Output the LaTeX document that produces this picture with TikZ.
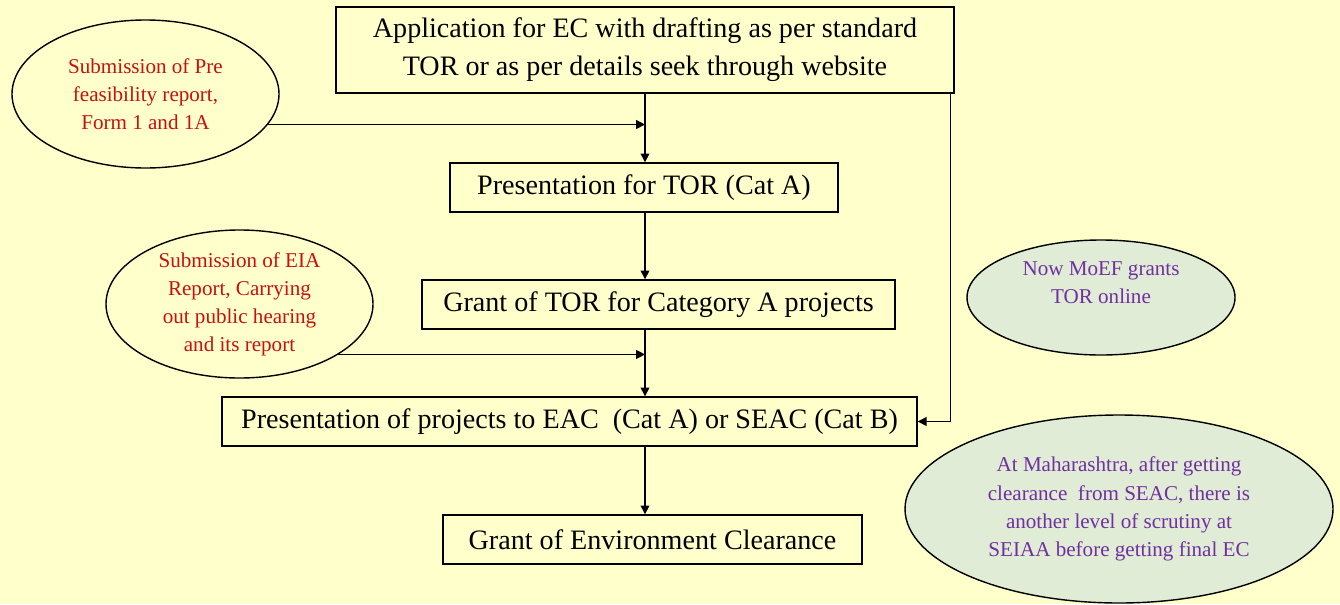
\documentclass[tikz,border=0pt]{standalone}
\usepackage{fontspec}
\setmainfont{Liberation Serif}
\usepackage{tikz}
\usetikzlibrary{shapes.geometric, arrows.meta, positioning, calc}
\definecolor{paleyellow}{RGB}{255, 255, 204}
\definecolor{notegreen}{RGB}{224, 236, 214}
\definecolor{subred}{RGB}{200, 16, 16}
\definecolor{notepurple}{RGB}{112, 48, 160}

\begin{document}
\begin{tikzpicture}[
  box/.style={draw, line width=0.8pt, minimum height=0.98cm, align=center, font=\fontsize{16}{21.5}\selectfont},
  bubble/.style={draw, ellipse, line width=0.8pt, inner sep=0pt, align=center, text=subred, font=\fontsize{12}{16}\selectfont},
  note/.style={bubble, fill=notegreen, text=notepurple},
  flow/.style={-{Triangle[length=5pt, width=5pt]}, line width=0.8pt},
]
  \fill[paleyellow] (0,0) rectangle (26.8,12.08);
  \useasboundingbox (0,0) rectangle (26.8,12.08);

  \node[box, minimum width=12.36cm, minimum height=1.72cm] (app) at (12.9,11.08)
    {Application for EC with drafting as per standard\\TOR or as per details seek through website};
  \node[box, minimum width=7.76cm] (tor) at (12.88,8.33) {Presentation for TOR (Cat A)};
  \node[box, minimum width=9.46cm] (grant) at (13.17,5.99) {Grant of TOR for Category A projects};
  \node[box, minimum width=13.9cm] (pres) at (11.39,3.65) {Presentation of projects to EAC\ \ (Cat A) or SEAC (Cat B)};
  \node[box, minimum width=8.38cm] (final) at (13.05,1.29) {Grant of Environment Clearance};

  \node[bubble, minimum width=5.34cm, minimum height=2.96cm] (prefeas) at (2.91,10.2)
    {Submission of Pre\\feasibility report,\\Form 1 and 1A};
  \node[bubble, minimum width=5.34cm, minimum height=2.96cm] (eia) at (4.79,6.0)
    {Submission of EIA\\Report, Carrying\\out public hearing\\and its report};
  \node[note, minimum width=5.36cm, minimum height=2.3cm, text depth=17pt] (online) at (22.02,6.13)
    {Now MoEF grants\\TOR online};
  \node[note, minimum width=8.56cm, minimum height=3.76cm] (seiaa) at (22.38,1.9)
    {At Maharashtra, after getting\\clearance\ \ from SEAC, there is\\another level of scrutiny at\\SEIAA before getting final EC};

  \coordinate (side) at ([xshift=-0.08cm]app.south east);

  \draw[flow] (app.south) -- (tor.north -| app.south);
  \draw[flow] (prefeas.-14) -- (prefeas.-14 -| app.south);
  \draw[flow] (tor.south -| app.south) -- (grant.north -| app.south);
  \draw[flow] (grant.south -| app.south) -- (pres.north -| app.south);
  \draw[flow] (eia.-27) -- (eia.-27 -| app.south);
  \draw[flow] (side) |- (pres.east);
  \draw[flow] (pres.south -| app.south) -- (final.north -| app.south);
\end{tikzpicture}
\end{document}
